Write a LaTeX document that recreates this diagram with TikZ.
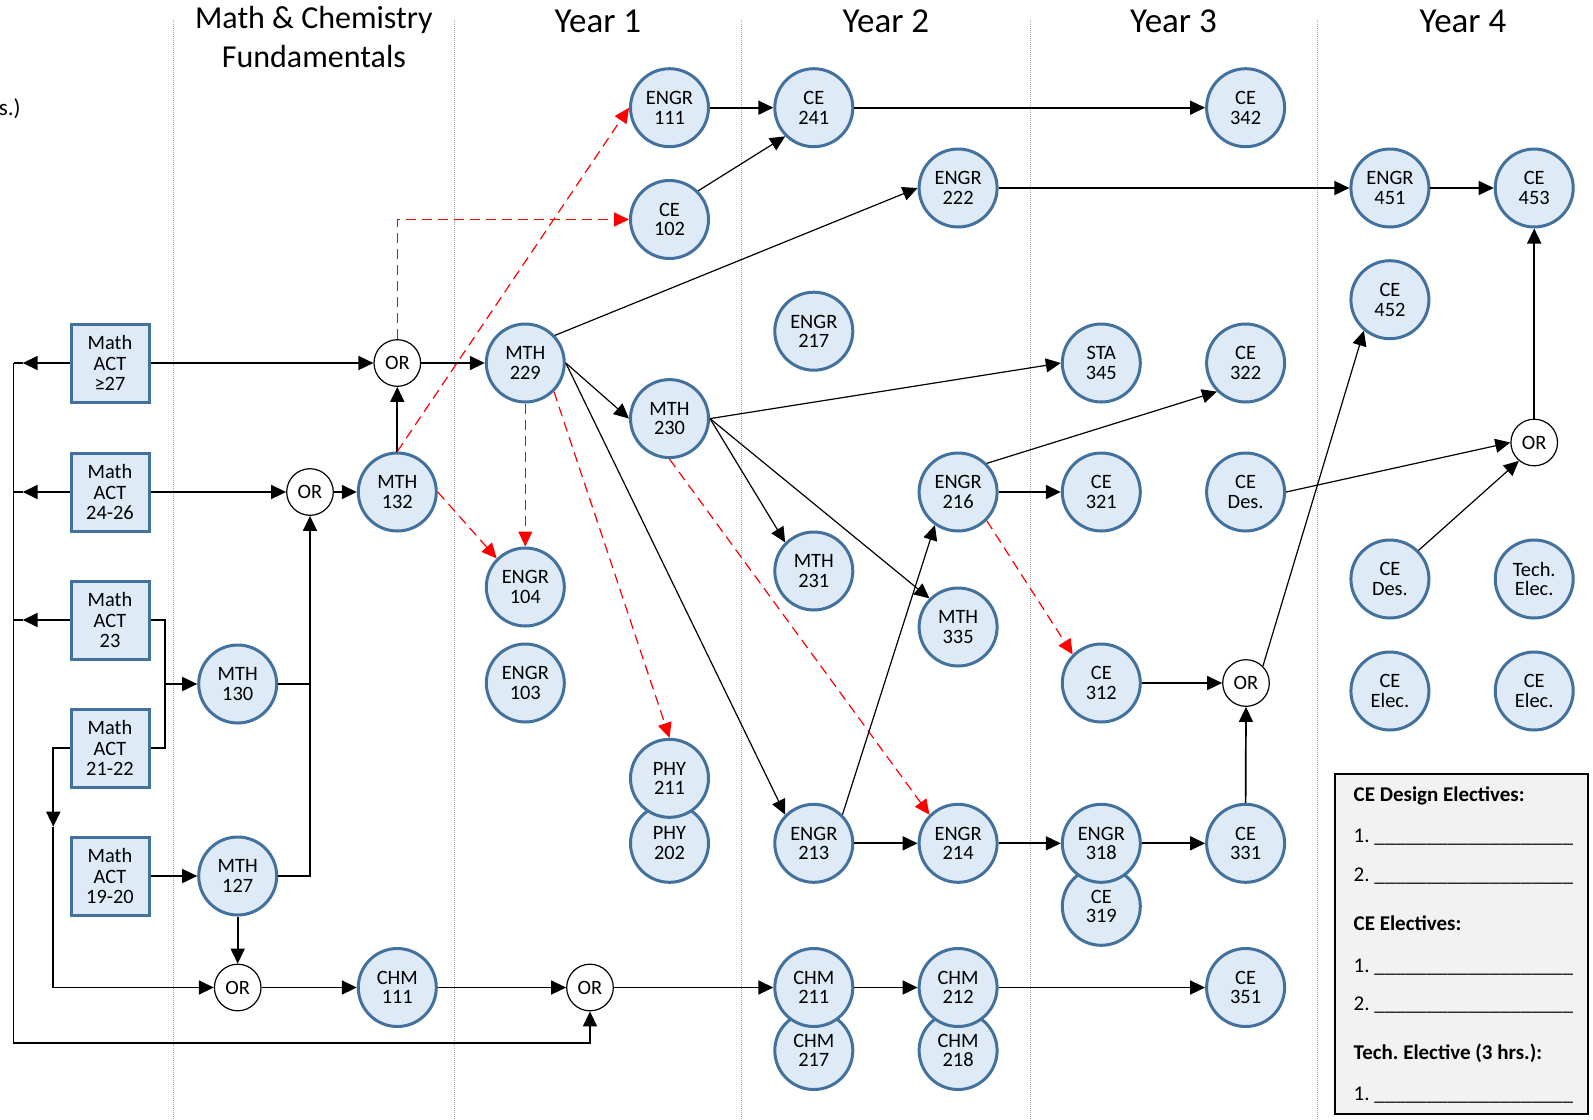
\documentclass[tikz,border=0pt]{standalone}
\usepackage{fontspec}
\setmainfont{Carlito}
\usetikzlibrary{arrows.meta}
\definecolor{cfill}{HTML}{DEEBF7}
\definecolor{cline}{HTML}{41719C}
\definecolor{divgray}{HTML}{A6A6A6}
\definecolor{legfill}{HTML}{F2F2F2}
\frenchspacing
\newcommand{\blankline}{\_\_\_\_\_\_\_\_\_\_\_\_\_\_\_\_\_\_\_}
\begin{document}
\begin{tikzpicture}[x=0.5pt,y=-0.5pt,
 course/.style={circle, draw=cline, fill=cfill, line width=1.5pt, minimum size=39pt, inner sep=0pt, align=center, font=\fontsize{10.2}{9.8}\selectfont},
 actbox/.style={rectangle, draw=cline, fill=cfill, line width=1.5pt, minimum width=39pt, minimum height=39pt, inner sep=0pt, align=center, font=\fontsize{10.2}{10.2}\selectfont},
 ornode/.style={circle, draw=black, fill=white, line width=0.6pt, minimum size=23.3pt, inner sep=0pt, font=\fontsize{10.2}{10}\selectfont},
 arr/.style={draw=black, line width=0.85pt, -{Triangle[length=7.5pt,width=7pt]}},
 darr/.style={draw=black, line width=0.6pt, -{Triangle[length=7.5pt,width=7pt]}},
 conn/.style={draw=black, line width=0.85pt},
 redarr/.style={draw=red, line width=0.6pt, dash pattern=on 5pt off 3pt, -{Triangle[length=7.5pt,width=7pt]}},
 divider/.style={draw=divgray, line width=0.5pt, dash pattern=on 0.5pt off 0.5pt},
 header/.style={font=\fontsize{17.5}{21}\selectfont, inner sep=0pt},
 legt/.style={font=\fontsize{10.5}{12}\selectfont, inner sep=0pt, anchor=base west},
 legb/.style={font=\fontsize{10.5}{12}\selectfont\bfseries, inner sep=0pt, anchor=base west},
]
\useasboundingbox (0,0) rectangle (1593,1119);

% column dividers
\draw[divider] (173.7,20) -- (173.7,1119);
\draw[divider] (454,20) -- (454,1119);
\draw[divider] (741.7,20) -- (741.7,1119);
\draw[divider] (1030,20) -- (1030,1119);
\draw[divider] (1317.5,20) -- (1317.5,1119);

% headers
\node[font=\fontsize{16}{19.2}\selectfont, align=center, inner sep=0pt] (hmc) at (313.9,37) {Math \& Chemistry\\Fundamentals};
\node[header, anchor=base] (hy1) at (597.9,32.3) {Year 1};
\node[header, anchor=base] (hy2) at (885.9,32.3) {Year 2};
\node[header, anchor=base] (hy3) at (1173.5,32.3) {Year 3};
\node[header, anchor=base] (hy4) at (1463,32.3) {Year 4};
\node[font=\fontsize{11.5}{13}\selectfont, anchor=base east, inner sep=0pt] (cut) at (21,115) {s.)};

% ACT boxes
\node[actbox] (act27) at (110,363) {Math\\ACT\\≥27};
\node[actbox] (act24) at (110,492) {Math\\ACT\\24-26};
\node[actbox] (act23) at (110,620) {Math\\ACT\\23};
\node[actbox] (act21) at (110,748) {Math\\ACT\\21-22};
\node[actbox] (act19) at (110,876) {Math\\ACT\\19-20};

% OR nodes
\node[ornode] (or1) at (397.3,363) {OR};
\node[ornode] (or2) at (310,492) {OR};
\node[ornode] (or3) at (237.7,987.5) {OR};
\node[ornode] (or4) at (590,987.5) {OR};
\node[ornode] (or5) at (1246,683) {OR};
\node[ornode] (or6) at (1534.2,442.5) {OR};

% courses
\node[course] (m130) at (237.7,684) {MTH\\130};
\node[course] (m127) at (237.7,876) {MTH\\127};
\node[course] (m132) at (397.3,492) {MTH\\132};
\node[course] (chm111) at (397.3,987.5) {CHM\\111};
\node[course] (m229) at (525.3,363) {MTH\\229};
\node[course] (e104) at (525.3,587) {ENGR\\104};
\node[course] (e103) at (525.3,683) {ENGR\\103};
\node[course] (e111) at (669.5,107.7) {ENGR\\111};
\node[course] (ce102) at (669.5,219.5) {CE\\102};
\node[course] (m230) at (669.5,418.6) {MTH\\230};
\node[course] (phy202) at (669.5,843.3) {PHY\\202};
\node[course] (phy211) at (669.5,778.3) {PHY\\211};
\node[course] (ce241) at (813.8,107.7) {CE\\241};
\node[course] (e217) at (813.8,331.2) {ENGR\\217};
\node[course] (m231) at (813.8,571) {MTH\\231};
\node[course] (e213) at (813.8,843.3) {ENGR\\213};
\node[course] (chm217) at (813.8,1050.5) {CHM\\217};
\node[course] (chm211) at (813.8,987.5) {CHM\\211};
\node[course] (e222) at (958.1,188) {ENGR\\222};
\node[course] (e216) at (958.1,492) {ENGR\\216};
\node[course] (m335) at (958.1,627) {MTH\\335};
\node[course] (e214) at (958.1,843.3) {ENGR\\214};
\node[course] (chm218) at (958.1,1050.5) {CHM\\218};
\node[course] (chm212) at (958.1,987.5) {CHM\\212};
\node[course] (sta345) at (1101.3,363) {STA\\345};
\node[course] (ce321) at (1101.3,492) {CE\\321};
\node[course] (ce312) at (1101.3,683) {CE\\312};
\node[course] (ce319) at (1101.3,906.3) {CE\\319};
\node[course] (e318) at (1101.3,843.3) {ENGR\\318};
\node[course] (ce342) at (1245.6,107.7) {CE\\342};
\node[course] (ce322) at (1245.6,363) {CE\\322};
\node[course] (cedes3) at (1245.6,492) {CE\\Des.};
\node[course] (ce331) at (1245.6,843.3) {CE\\331};
\node[course] (ce351) at (1245.6,987.5) {CE\\351};
\node[course] (e451) at (1389.9,188) {ENGR\\451};
\node[course] (ce452) at (1389.9,299.7) {CE\\452};
\node[course] (cedes4) at (1389.9,579) {CE\\Des.};
\node[course] (ceelec1) at (1389.9,691) {CE\\Elec.};
\node[course] (ce453) at (1534.2,188) {CE\\453};
\node[course] (techel) at (1534.2,579) {Tech.\\Elec.};
\node[course] (ceelec2) at (1534.2,691) {CE\\Elec.};

% helper coordinates
\coordinate (j1) at (165,684);
\coordinate (j2) at (310,684);
\coordinate (j3) at (310,876);
\coordinate (a1) at (22.7,363);
\coordinate (a2) at (22.7,492);
\coordinate (a3) at (22.7,620);
\coordinate (t1) at (13.5,363);
\coordinate (t2) at (13.5,492);
\coordinate (t3) at (13.5,620);
\coordinate (tr) at (590,1043);
\coordinate (b1) at (53.3,748);
\coordinate (b2) at (53.3,826.7);

% left side connectors
\draw[arr] (act27.west) -- (a1);
\draw[arr] (act24.west) -- (a2);
\draw[arr] (act23.west) -- (a3);
\draw[conn] (a1) -- (t1);
\draw[conn] (a2) -- (t2);
\draw[conn] (a3) -- (t3);
\draw[arr] (t1) |- (tr) -- (or4.south);
\draw[arr] (act21.west) -- (b1) -- (b2);
\draw[arr] (b2) |- (or3.west);
\draw[conn] (act23.east) -| (j1) |- (act21.east);
\draw[arr] (j1) -- (m130.west);
\draw[conn] (m130.east) -- (j2);
\draw[arr] (m127.east) -- (j3) -- (or2.south);
\draw[arr] (act27.east) -- (or1.west);
\draw[arr] (or1.east) -- (m229.west);
\draw[arr] (act24.east) -- (or2.west);
\draw[arr] (or2.east) -- (m132.west);
\draw[arr] (m132.north) -- (or1.south);
\draw[arr] (act19.east) -- (m127.west);
\draw[arr] (m127.south) -- (or3.north);
\draw[arr] (or3.east) -- (chm111.west);
\draw[arr] (chm111.east) -- (or4.west);
\draw[arr] (or4.east) -- (chm211.west);
\draw[arr] (chm211.east) -- (chm212.west);
\draw[arr] (chm212.east) -- (ce351.west);

% red dashed
\draw[redarr] (or1.north) |- (ce102.west);
\draw[redarr] (m132.north) -- (e111.west);
\draw[redarr] (m132.east) -- (e104.135);
\draw[redarr] (m229.south) -- (e104.north);
\draw[redarr] (m229.-45) -- (phy211.north);
\draw[redarr] (m230.south) -- (e214.135);
\draw[redarr] (e216.-45) -- (ce312.135);

% black connectors
\draw[darr] (m229.43) -- (e222.west);
\draw[darr] (m229.east) -- (m230.west);
\draw[darr] (m229.east) -- (e213.135);
\draw[darr] (m230.east) -- (sta345.west);
\draw[darr] (m230.east) -- (m231.135);
\draw[darr] (m230.east) -- (m335.135);
\draw[darr] (e213.45) -- (e216.235);
\draw[darr] (e216.45) -- (ce322.225);
\draw[arr] (e216.east) -- (ce321.west);
\draw[arr] (ce312.east) -- (or5.west);
\draw[arr] (ce331.north) -- (or5.south);
\draw[darr] (or5.45) -- (ce452.230);
\draw[darr] (cedes3.east) -- (or6.west);
\draw[darr] (cedes4.45) -- (or6.230);
\draw[arr] (or6.north) -- (ce453.south);
\draw[arr] (e111.east) -- (ce241.west);
\draw[darr] (ce102.45) -- (ce241.225);
\draw[arr] (ce241.east) -- (ce342.west);
\draw[arr] (e222.east) -- (e451.west);
\draw[arr] (e451.east) -- (ce453.west);
\draw[arr] (e213.east) -- (e214.west);
\draw[arr] (e214.east) -- (e318.west);
\draw[arr] (e318.east) -- (ce331.west);

% legend
\node[draw=black, line width=1pt, fill=legfill, minimum width=126.7pt, minimum height=170pt, inner sep=0pt, outer sep=0pt] (legend) at (1461.7,944.3) {};
\node[legb] (l1) at (1353.3,801) {CE Design Electives:};
\node[legt] (l2) at (1353.3,842) {1. \blankline};
\node[legt] (l3) at (1353.3,881.7) {2. \blankline};
\node[legb] (l4) at (1353.3,930) {CE Electives:};
\node[legt] (l5) at (1353.3,972) {1. \blankline};
\node[legt] (l6) at (1353.3,1010.7) {2. \blankline};
\node[legb] (l7) at (1353.3,1059) {Tech. Elective (3 hrs.):};
\node[legt] (l8) at (1353.3,1100) {1. \blankline};
\end{tikzpicture}
\end{document}
